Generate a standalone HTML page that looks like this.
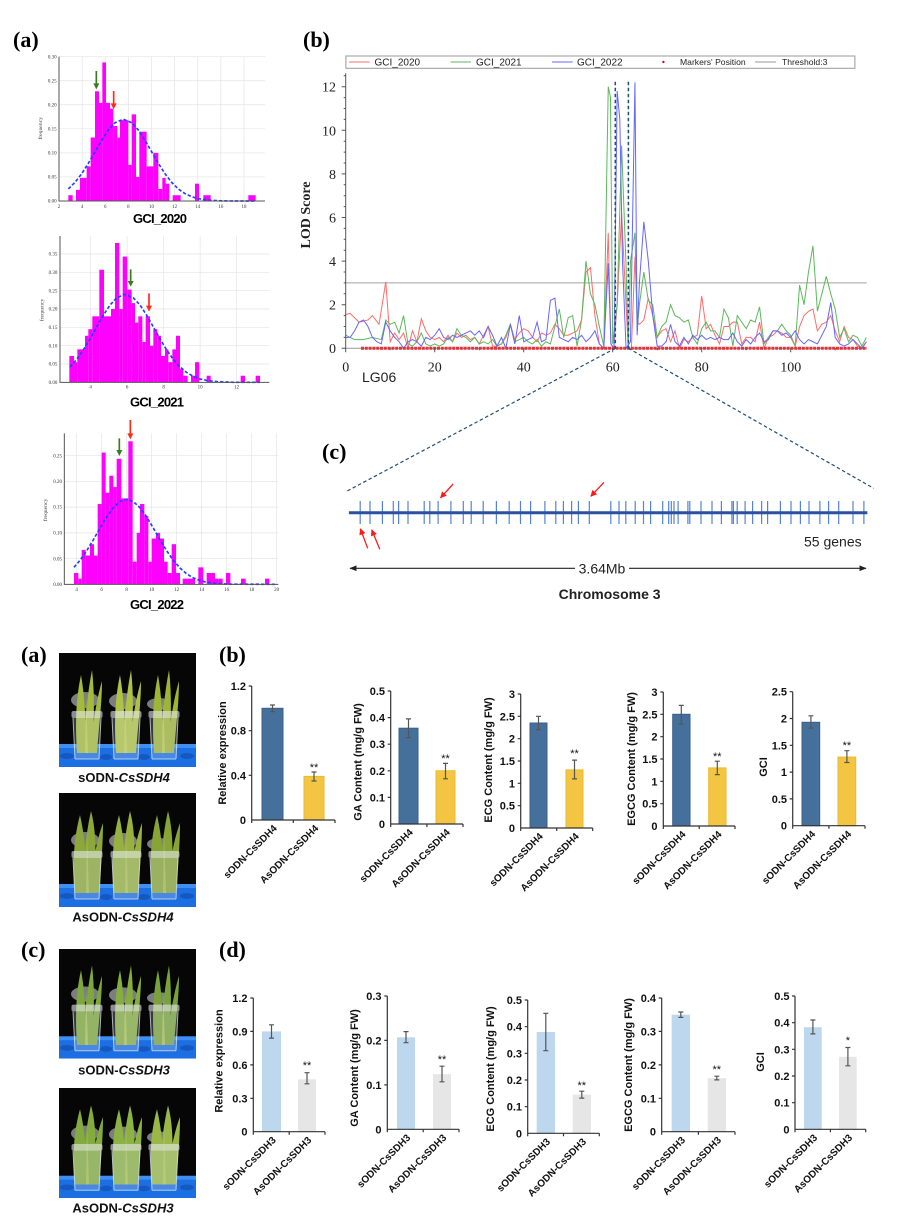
<!DOCTYPE html>
<html><head><meta charset="utf-8"><style>
html,body{margin:0;padding:0;background:#fff;}
svg{display:block;}
</style></head><body>
<svg width="900" height="1230" viewBox="0 0 900 1230" xmlns="http://www.w3.org/2000/svg">
<defs>
<marker id="rh" viewBox="0 0 10 10" refX="9" refY="5" markerWidth="5" markerHeight="5" orient="auto"><path d="M0,0 L10,5 L0,10z" fill="#ff1a1a"/></marker>
<marker id="bh" viewBox="0 0 10 10" refX="9" refY="5" markerWidth="6" markerHeight="6" orient="auto-start-reverse"><path d="M0,1 L10,5 L0,9z" fill="#222"/></marker>
<g id="pbg">
 <rect width="137" height="114" fill="#060606"/>
 <ellipse cx="26" cy="47" rx="14" ry="8" fill="#c9cdd3" opacity=".6"/>
 <ellipse cx="64" cy="48" rx="14" ry="8" fill="#c9cdd3" opacity=".6"/>
 <ellipse cx="100" cy="51" rx="12" ry="6" fill="#c9cdd3" opacity=".6"/>
 <rect y="91" width="137" height="23" fill="#1c6fe3"/>
 <rect y="91" width="137" height="4" fill="#3f8ff2"/>
 <ellipse cx="8" cy="103" rx="7" ry="3" fill="#1559c0"/>
 <ellipse cx="47" cy="104" rx="6" ry="3" fill="#1559c0"/>
 <ellipse cx="85" cy="104" rx="6" ry="3" fill="#1559c0"/>
 <ellipse cx="128" cy="103" rx="7" ry="3" fill="#1559c0"/>
</g>
<g id="leaf">
 <path d="M-10,100 C-12,70 -11,45 -6,22 C-2,45 -1,70 -1,100Z"/>
 <path d="M-3,100 C-2,62 1,38 5,17 C8,42 7,70 5,100Z"/>
 <path d="M3,100 C6,68 10,45 15,28 C15,50 12,72 10,100Z"/>
 <path d="M-2,100 L-1,40 L1,100Z" fill="#d2dc6a" opacity=".5"/>
</g>
<g id="leaf2">
 <path d="M-12,100 C-15,70 -13,44 -7,22 C-2,44 0,70 0,100Z"/>
 <path d="M-4,100 C-4,62 0,36 4,18 C10,40 9,70 7,100Z"/>
 <path d="M2,100 C6,68 10,46 16,30 C16,52 14,72 12,100Z"/>
 <path d="M-1,100 L0,40 L2,100Z" fill="#c4d464" opacity=".5"/>
</g>
<g id="cup">
 <path d="M-14,65 L14,65 L12,106 L-12,106Z" fill="#cfd8e2" opacity=".25"/>
 <path d="M-14,65 L-12,106 M14,65 L12,106 M-12,106 H12" stroke="#dfe5ec" stroke-width="1" opacity=".75" fill="none"/>
 <rect x="-15.5" y="58" width="31" height="7" rx="2" fill="#e4e8ec" opacity=".6"/>
</g>
</defs>

<!-- ================= Panel labels ================= -->
<g font-family="Liberation Serif, serif" font-weight="bold" font-size="22">
<text x="13" y="47">(a)</text>
<text x="303" y="47">(b)</text>
<text x="322" y="459">(c)</text>
<text x="21" y="662">(a)</text>
<text x="219" y="662">(b)</text>
<text x="21" y="957">(c)</text>
<text x="219" y="957">(d)</text>
</g>

<!-- ================= Histogram 1 ================= -->
<g transform="scale(0.333333)">
 <g stroke="#e4e4e4" stroke-width="2">
  <path d="M177,530.8H795M177,458.7H795M177,386.5H795M177,314.3H795M177,242.2H795M177,170H795"/>
  <path d="M246.4,170V603M315.8,170V603M385.1,170V603M454.5,170V603M523.9,170V603M593.3,170V603M662.6,170V603M732,170V603"/>
 </g>
 <g fill="#ff00ff">
  <rect x="205" y="585.7" width="13" height="17.3"/><rect x="228" y="569.8" width="12" height="33.2"/><rect x="240" y="533.7" width="20" height="69.3"/><rect x="260" y="499.1" width="12" height="103.9"/><rect x="272" y="412.5" width="13" height="190.5"/><rect x="285" y="273.9" width="12" height="329.1"/><rect x="297" y="308.6" width="10" height="294.4"/><rect x="307" y="187.3" width="11" height="415.7"/><rect x="318" y="308.6" width="12" height="294.4"/><rect x="330" y="325.9" width="10" height="277.1"/><rect x="340" y="377.8" width="12" height="225.2"/><rect x="352" y="412.5" width="8" height="190.5"/><rect x="360" y="360.5" width="25" height="242.5"/><rect x="385" y="494.8" width="10" height="108.2"/><rect x="395" y="343.2" width="13" height="259.8"/><rect x="408" y="530.8" width="10" height="72.2"/><rect x="418" y="395.2" width="22" height="207.8"/><rect x="440" y="499.1" width="20" height="103.9"/><rect x="460" y="458.7" width="15" height="144.3"/><rect x="475" y="566.9" width="12" height="36.1"/><rect x="487" y="533.7" width="10" height="69.3"/><rect x="497" y="551" width="11" height="52"/><rect x="518" y="585.7" width="24" height="17.3"/><rect x="585" y="551" width="12" height="52"/><rect x="610" y="585.7" width="22" height="17.3"/><rect x="745" y="585.7" width="22" height="17.3"/>
 </g>
 <polyline fill="none" stroke="#2040ff" stroke-width="5" stroke-dasharray="10,6" points="205,566.9 225,547.1 245,521.3 265,490 285,455.4 305,420.7 325,390.2 345,368.2 370,357.6 395,368.2 415,390.2 435,420.7 455,455.4 475,490 495,521.3 515,547.1 535,566.9 555,580.9 575,590.2 595,596 620,600 660,602.5 700,603 765,603"/>
 <path d="M177,170V603H795" stroke="#555" stroke-width="3" fill="none"/>
 <g font-family="Liberation Serif, serif" font-size="15" fill="#333" text-anchor="end">
  <text x="170" y="608">0.00</text><text x="170" y="536">0.05</text><text x="170" y="464">0.10</text><text x="170" y="391">0.15</text><text x="170" y="319">0.20</text><text x="170" y="247">0.25</text><text x="170" y="175">0.30</text>
 </g>
 <g font-family="Liberation Serif, serif" font-size="15" fill="#333" text-anchor="middle">
  <text x="177" y="624">2</text><text x="246.4" y="624">4</text><text x="315.8" y="624">6</text><text x="385.1" y="624">8</text><text x="454.5" y="624">10</text><text x="523.9" y="624">12</text><text x="593.3" y="624">14</text><text x="662.6" y="624">16</text><text x="732" y="624">18</text>
  <text transform="translate(126,385) rotate(-90)" font-size="17">frequency</text>
 </g>
 <path d="M289,213V252" stroke="#3b7a1e" stroke-width="5"/><polygon points="280,250 298,250 289,268" fill="#3b7a1e"/>
 <path d="M341,273V312" stroke="#ff2a1a" stroke-width="5"/><polygon points="332,310 350,310 341,328" fill="#ff2a1a"/>
</g>
<text x="160" y="223" font-family="Liberation Sans, sans-serif" font-weight="bold" font-size="13" text-anchor="middle" textLength="54">GCI_2020</text>

<!-- ================= Histogram 2 ================= -->
<g transform="translate(0,220) scale(0.333333)">
 <g stroke="#e4e4e4" stroke-width="2">
  <path d="M180,432H808M180,377H808M180,322H808M180,267H808M180,212H808M180,157H808M180,102H808"/>
  <path d="M272,48V487M381.5,48V487M491,48V487M600.5,48V487M710,48V487"/>
 </g>
 <g fill="#ff00ff">
  <rect x="208" y="407.8" width="14" height="79.2"/><rect x="222" y="426.5" width="10" height="60.5"/><rect x="232" y="388" width="23" height="99"/><rect x="255" y="347.3" width="10" height="139.7"/><rect x="265" y="327.5" width="12" height="159.5"/><rect x="277" y="289" width="21" height="198"/><rect x="298" y="149.3" width="14" height="337.7"/><rect x="312" y="289" width="21" height="198"/><rect x="333" y="267" width="12" height="220"/><rect x="345" y="69" width="13" height="418"/><rect x="358" y="267" width="10" height="220"/><rect x="368" y="109.7" width="14" height="377.3"/><rect x="382" y="208.7" width="13" height="278.3"/><rect x="395" y="249.4" width="10" height="237.6"/><rect x="405" y="307.7" width="10" height="179.3"/><rect x="415" y="289" width="12" height="198"/><rect x="427" y="366" width="10" height="121"/><rect x="437" y="289" width="13" height="198"/><rect x="450" y="377" width="10" height="110"/><rect x="460" y="327.5" width="12" height="159.5"/><rect x="472" y="347.3" width="11" height="139.7"/><rect x="483" y="407.8" width="12" height="79.2"/><rect x="495" y="388" width="10" height="99"/><rect x="505" y="426.5" width="12" height="60.5"/><rect x="517" y="388" width="11" height="99"/><rect x="528" y="347.3" width="12" height="139.7"/><rect x="540" y="447.4" width="10" height="39.6"/><rect x="550" y="467.2" width="13" height="19.8"/><rect x="573" y="467.2" width="12" height="19.8"/><rect x="585" y="426.5" width="13" height="60.5"/><rect x="620" y="467.2" width="12" height="19.8"/><rect x="722" y="467.2" width="13" height="19.8"/><rect x="767" y="467.2" width="13" height="19.8"/>
 </g>
 <polyline fill="none" stroke="#2040ff" stroke-width="5" stroke-dasharray="10,6" points="210,440.8 230,418.3 250,389.9 270,356.7 290,320.8 310,285.6 330,255.1 350,233.4 375,223 400,233.4 420,255.1 440,285.6 460,320.8 480,356.7 500,389.9 520,418.3 540,440.8 560,457.5 580,469.1 600,476.7 620,481.3 650,484.9 700,486.9 780,487"/>
 <path d="M180,48V487H808" stroke="#555" stroke-width="3" fill="none"/>
 <g font-family="Liberation Serif, serif" font-size="15" fill="#333" text-anchor="end">
  <text x="172" y="492">0.00</text><text x="172" y="437">0.05</text><text x="172" y="382">0.10</text><text x="172" y="327">0.15</text><text x="172" y="272">0.20</text><text x="172" y="217">0.25</text><text x="172" y="162">0.30</text><text x="172" y="107">0.35</text>
 </g>
 <g font-family="Liberation Serif, serif" font-size="15" fill="#333" text-anchor="middle">
  <text x="272" y="506">4</text><text x="381.5" y="506">6</text><text x="491" y="506">8</text><text x="600.5" y="506">10</text><text x="710" y="506">12</text>
  <text transform="translate(131,270) rotate(-90)" font-size="17">frequency</text>
 </g>
 <path d="M392,148V185" stroke="#3b7a1e" stroke-width="5"/><polygon points="383,183 401,183 392,200" fill="#3b7a1e"/>
 <path d="M447,220V258" stroke="#ff2a1a" stroke-width="5"/><polygon points="438,257 456,257 447,275" fill="#ff2a1a"/>
</g>
<text x="157" y="406.5" font-family="Liberation Sans, sans-serif" font-weight="bold" font-size="13" text-anchor="middle" textLength="54">GCI_2021</text>

<!-- ================= Histogram 3 ================= -->
<g transform="translate(50,420) scale(0.333333)">
 <g stroke="#e4e4e4" stroke-width="2">
  <path d="M43,415.8H685M43,338.6H685M43,261.4H685M43,184.2H685M43,107H685"/>
  <path d="M80,40V493M155,40V493M230,40V493M305,40V493M380,40V493M455,40V493M530,40V493M605,40V493M680,40V493"/>
 </g>
 <g fill="#ff00ff">
  <rect x="72" y="459" width="13" height="34"/><rect x="85" y="476" width="10" height="17"/><rect x="95" y="389.6" width="12" height="103.4"/><rect x="107" y="406.5" width="13" height="86.5"/><rect x="120" y="372.6" width="12" height="120.4"/><rect x="132" y="406.5" width="11" height="86.5"/><rect x="143" y="252.1" width="12" height="240.9"/><rect x="155" y="97.7" width="12" height="395.3"/><rect x="167" y="218.2" width="11" height="274.8"/><rect x="178" y="167.2" width="12" height="325.8"/><rect x="190" y="201.2" width="10" height="291.8"/><rect x="200" y="116.3" width="14" height="376.7"/><rect x="214" y="235.2" width="21" height="257.8"/><rect x="235" y="63.8" width="13" height="429.2"/><rect x="248" y="425.1" width="12" height="67.9"/><rect x="260" y="338.6" width="10" height="154.4"/><rect x="270" y="252.1" width="13" height="240.9"/><rect x="283" y="287.6" width="12" height="205.4"/><rect x="295" y="425.1" width="10" height="67.9"/><rect x="305" y="355.6" width="13" height="137.4"/><rect x="318" y="338.6" width="12" height="154.4"/><rect x="330" y="355.6" width="12" height="137.4"/><rect x="342" y="425.1" width="11" height="67.9"/><rect x="353" y="459" width="12" height="34"/><rect x="365" y="372.6" width="13" height="120.4"/><rect x="378" y="459" width="12" height="34"/><rect x="398" y="476" width="37" height="17"/><rect x="445" y="442" width="15" height="51"/><rect x="470" y="459" width="25" height="34"/><rect x="495" y="476" width="10" height="17"/><rect x="505" y="476" width="13" height="17"/><rect x="528" y="459" width="13" height="34"/><rect x="573" y="476" width="14" height="17"/><rect x="645" y="476" width="13" height="17"/>
 </g>
 <polyline fill="none" stroke="#2040ff" stroke-width="5" stroke-dasharray="10,6" points="72,442 90,421 110,392.3 130,359.3 150,324.3 170,291 190,263.2 210,244.7 230,238.2 250,244.7 270,263.2 290,291 310,324.3 330,359.3 350,392.3 370,421 390,444.1 410,461.5 430,473.7 450,481.7 470,486.8 500,490.7 540,492.5 680,493"/>
 <path d="M43,40V493H685" stroke="#555" stroke-width="3" fill="none"/>
 <g font-family="Liberation Serif, serif" font-size="15" fill="#333" text-anchor="end">
  <text x="36" y="498">0.00</text><text x="36" y="421">0.05</text><text x="36" y="344">0.10</text><text x="36" y="266">0.15</text><text x="36" y="189">0.20</text><text x="36" y="112">0.25</text>
 </g>
 <g font-family="Liberation Serif, serif" font-size="15" fill="#333" text-anchor="middle">
  <text x="80" y="513">4</text><text x="155" y="513">6</text><text x="230" y="513">8</text><text x="305" y="513">10</text><text x="380" y="513">12</text><text x="455" y="513">14</text><text x="530" y="513">16</text><text x="605" y="513">18</text><text x="680" y="513">20</text>
  <text transform="translate(-9,270) rotate(-90)" font-size="17">frequency</text>
 </g>
 <path d="M208,55V92" stroke="#3b7a1e" stroke-width="5"/><polygon points="199,90 217,90 208,108" fill="#3b7a1e"/>
 <path d="M241,0V42" stroke="#ff2a1a" stroke-width="5"/><polygon points="232,40 250,40 241,58" fill="#ff2a1a"/>
</g>
<text x="157" y="609" font-family="Liberation Sans, sans-serif" font-weight="bold" font-size="13" text-anchor="middle" textLength="54">GCI_2022</text>

<!-- ================= LOD plot ================= -->
<rect x="345.9" y="56" width="509" height="12.3" fill="#fff" stroke="#999" stroke-width="1"/>
<g font-family="Liberation Sans, sans-serif" fill="#222">
 <path d="M349,62H369.6" stroke="#ff6b6b" stroke-width="1"/><text x="374.5" y="65.5" font-size="10">GCI_2020</text>
 <path d="M450.5,62H471" stroke="#5cb85c" stroke-width="1"/><text x="476" y="65.5" font-size="10">GCI_2021</text>
 <path d="M552,62H572.7" stroke="#6666ff" stroke-width="1"/><text x="577" y="65.5" font-size="10">GCI_2022</text>
 <circle cx="663.4" cy="62" r="1.2" fill="#c0143c"/><text x="680" y="65" font-size="8.6">Markers' Position</text>
 <path d="M755,62H776" stroke="#999" stroke-width="1"/><text x="782" y="65" font-size="8.6">Threshold:3</text>
</g>
<path d="M345.7,282.9H866.7" stroke="#a0a0a0" stroke-width="1"/>
<path d="M345.7,348.3H866.7" stroke="#999" stroke-width="1"/>
<g transform="translate(345.7,348.3) scale(4.45,-21.8)" fill="none" stroke-width="1">
<polyline vector-effect="non-scaling-stroke" stroke="#ff6b6b" points="0,1.55 1,1.6 3,1.2 5,1.3 6,1.5 7.5,1.1 9,3.05 10,0.3 11,0.7 12,0.4 13,0.7 14,0 15,0.8 16,0.3 17,1.35 18,0.8 19,0.5 20,0.4 21,0.5 22,0.3 23,0.6 24,0.3 25,0.7 26,0.5 27,0.6 28,0.4 29,0.5 30,0.2 31,0.6 32,1 33,0.1 34,0.1 35,0.2 36,0.5 37,1.1 38,0.4 39,0.7 40,0.9 41,0.8 42,0.5 43,0.3 44,0.7 45,0.6 46,0.7 47,1.1 48,0.9 49,0.6 50,0.6 51,0.7 52,0.8 53,1.3 54,3.5 55,3.7 56,1.5 57,0.2 58,0 59,5.3 59.6,0.2 60.2,0 61,2 62,6.2 63,2 63.5,0 64.2,0 65,4.2 65.6,1.2 66,1.1 67,1.3 68,2.3 69,1.5 70,0.5 71,0.8 72,0.9 73,0.3 74,0.8 75,0 76,0.4 77,0.3 78,0.5 79,0.6 80,2.4 81,0.9 82,1.1 83,0.6 84,0.2 85,1 86,1 87,1.2 88,1.2 89,0.2 90,0.5 91,0.5 92,0.3 93,1.2 94,0 95,0.5 96,0.6 97,0.8 98,0.7 99,0.5 100,0.5 101,0.1 102,1 103,1.5 104,1.7 105,1.8 106,0.8 107,1.1 108,1.2 109,1.5 110,0.8 111,0.3 112,1 113,0.5 114,0.4 115,0.1 116,0 117,0.3"/>
<polyline vector-effect="non-scaling-stroke" stroke="#5cb85c" points="0,0.6 1,0.5 2,0.4 4,0.4 6,0.5 8,0.4 9,1.3 10,1.1 11,1.2 12,0.7 13,1.5 14,0.2 15,0.1 16,0.3 17,0.7 18,0.2 19,0.1 20,0.2 21,0.1 22,0.2 23,0.5 24,0.3 25,0.9 26,0.6 27,0.5 28,0.3 29,0.5 30,0.2 31,0.3 32,0.2 33,0.4 34,0.1 35,0.2 36,0.6 37,1.1 38,0.3 39,0.4 40,0.5 41,0.3 42,0.2 43,0.4 44,0.1 45,0.3 46,0.2 47,1 48,1.8 49,0.5 50,1.4 51,1.5 52,0.1 53,1.3 54,4 55,2.5 56,2 57,1 58,0.1 59,12 59.5,11.5 60,0.2 61,2 62,9.3 63,3.8 63.5,0.1 64,4 65,5.3 65.5,0.8 66,2 67,3.5 68,2.2 69,2 70,0.5 71,1 72,1.2 73,2 74,1.5 75,1.4 76,1.2 77,1.3 78,0.5 79,0.2 80,0.9 81,1.2 82,0.8 83,0.8 84,0.5 85,1.8 86,1.4 87,0.1 88,1.5 89,1.2 90,0.9 91,1.3 92,1.2 93,1.9 94,0.2 95,0.5 96,0.8 97,0.8 98,1.1 99,0.8 100,0.6 101,0.1 102,2.9 103,2 104,3.5 105,4.7 106,1.7 107,2.5 108,3.3 109,2.5 110,1.8 111,0.5 112,0.9 113,0.3 114,0.6 115,0.5 116,0.1 117,0.5"/>
<polyline vector-effect="non-scaling-stroke" stroke="#6666ff" points="0,0.5 1,0.5 2,0.8 3,1.2 4,1.3 5,1 6,0.5 7,0.3 8,0.2 9,1.2 10,0.8 11,0.5 12,0.3 13,0 14,0.3 15,0.4 16,0.3 17,0.1 18,0.5 19,0.4 20,0.6 21,0.9 22,0.5 23,0.4 24,0.6 25,0.5 26,0.6 27,0.7 28,0.8 29,0.6 30,0.8 31,0.5 32,1 33,0.6 34,0.1 35,0.5 36,0 37,1.1 38,0.2 39,1.5 40,0.3 41,0.4 42,0.5 43,1.2 44,0.3 45,0.4 46,2.2 47,2.3 48,0.5 49,0.4 50,0.3 51,0.5 52,0.4 53,0.6 54,0.3 55,0.5 56,0.8 57,0.2 58,0 59,3.9 59.6,0.2 60.3,0 61,11.8 61.6,10.5 62.2,4 63,0 64,0.3 65,12.2 65.5,0.6 66,3 67,5.8 68,4 69,1.5 70,0.1 71,0.1 72,0.3 73,1.1 74,0.3 75,0.1 76,0.5 77,0.2 78,0.6 79,0.4 80,0.6 81,0.4 82,0.5 83,0.4 84,0.5 85,0.4 86,0.4 87,0.7 88,0.3 89,0.1 90,0.4 91,0.2 92,0.5 93,0.7 94,0.3 95,0.4 96,0.8 97,0.8 98,0.6 99,0.7 100,0.5 101,0.8 102,0.4 103,0.2 104,0.4 105,0.3 106,0.2 107,0.6 108,1 109,2.1 110,0.5 111,0.2 112,0.1 113,0.2 114,0.4 115,0.2 116,0 117,0.3"/>
</g>
<path d="M345.7,73.3V348.3" stroke="#555" stroke-width="1" fill="none"/>
<path d="M361,348.3H866.7" stroke="#e3323a" stroke-width="3" stroke-dasharray="3 0.8"/>
<path d="M341.7,348.3h4M341.7,304.7h4M341.7,261.1h4M341.7,217.5h4M341.7,173.9h4M341.7,130.3h4M341.7,86.7h4" stroke="#555" stroke-width="1"/>
<path d="M343.7,337.4h2M343.7,326.5h2M343.7,315.6h2M343.7,293.8h2M343.7,282.9h2M343.7,272h2M343.7,250.2h2M343.7,239.3h2M343.7,228.4h2M343.7,206.6h2M343.7,195.7h2M343.7,184.8h2M343.7,163h2M343.7,152.1h2M343.7,141.2h2M343.7,119.4h2M343.7,108.5h2M343.7,97.6h2M343.7,75.8h2" stroke="#555" stroke-width="1"/>
<path d="M345.7,348.3v4M434.7,348.3v4M523.7,348.3v4M612.7,348.3v4M701.7,348.3v4M790.7,348.3v4M390.2,348.3v2M479.2,348.3v2M568.2,348.3v2M657.2,348.3v2M746.2,348.3v2M835.2,348.3v2" stroke="#555" stroke-width="1"/>
<g font-family="Liberation Serif, serif" font-size="14" fill="#222">
 <g text-anchor="end">
  <text x="336" y="353">0</text><text x="336" y="309.5">2</text><text x="336" y="266">4</text><text x="336" y="222.5">6</text><text x="336" y="178.9">8</text><text x="336" y="135.3">10</text><text x="336" y="91.7">12</text>
 </g>
 <g text-anchor="middle">
  <text x="345.7" y="371.5">0</text><text x="434.7" y="371.5">20</text><text x="523.7" y="371.5">40</text><text x="612.7" y="371.5">60</text><text x="701.7" y="371.5">80</text><text x="790.7" y="371.5">100</text>
 </g>
 <text transform="translate(310,215) rotate(-90)" text-anchor="middle" font-weight="bold">LOD Score</text>
</g>
<text x="362" y="382" font-family="Liberation Sans, sans-serif" font-size="14" fill="#222">LG06</text>
<g stroke="#1f4e79" stroke-width="1.5" stroke-dasharray="3.5,2.5" fill="none">
 <path d="M615.3,81.7V348.3M628.4,81.7V348.3"/>
 <path d="M615.3,348.3L345.9,491.7M628.4,348.3L873.7,488.3" stroke-width="1.2"/>
</g>

<!-- ================= Chromosome (c) ================= -->
<path d="M360.2,501V524M370,501V524M382.4,501V524M393.3,501V524M398.6,501V524M408,501V524M424.2,501V524M429.8,501V524M438.1,501V524M450.9,501V524M463.3,501V524M471.2,501V524M483.2,501V524M496.4,501V524M509.2,501V524M520.5,501V524M530.6,501V524M544.9,501V524M555.8,501V524M563.4,501V524M571.6,501V524M578.4,501V524M589.3,501V524M610.8,501V524M619,501V524M625.8,501V524M635.2,501V524M643.5,501V524M650.6,501V524M662.7,501V524M668.7,501V524M671.3,501V524M674,501V524M678.1,501V524M687.9,501V524M689.8,501V524M701,501V524M712,501V524M721.4,501V524M731.9,501V524M733.4,501V524M737.2,501V524M745.1,501V524M752.6,501V524M761.6,501V524M767.6,501V524M780.4,501V524M791,501V524M800.4,501V524M809,501V524M819.9,501V524M828.6,501V524M838.7,501V524M853,501V524M863.9,501V524" stroke="#5584d4" stroke-width="1.2"/>
<path d="M348.9,512.7H867.3" stroke="#2b50a0" stroke-width="3"/>
<g stroke="#ff1a1a" stroke-width="1.3" marker-end="url(#rh)">
 <path d="M453.1,484L440.5,497.8"/>
 <path d="M604,482.3L590.8,496.3"/>
 <path d="M367.7,548.3L360.4,528.8"/>
 <path d="M379.8,549.3L371.7,529.8"/>
</g>
<text x="804" y="546.5" font-family="Liberation Sans, sans-serif" font-size="14" fill="#222">55 genes</text>
<path d="M629,568.3H866" stroke="#222" stroke-width="1.2" marker-end="url(#bh)"/>
<path d="M575,568.3H350" stroke="#222" stroke-width="1.2" marker-end="url(#bh)"/>
<text x="602" y="573.3" font-family="Liberation Sans, sans-serif" font-size="14" fill="#222" text-anchor="middle">3.64Mb</text>
<text x="609.6" y="599" font-family="Liberation Sans, sans-serif" font-size="14" font-weight="bold" fill="#222" text-anchor="middle">Chromosome 3</text>

<!-- ================= Photos ================= -->
<g transform="translate(59,653)">
 <use href="#pbg"/>
 <use href="#leaf" x="28" fill="#a3ba3a"/><use href="#leaf" x="67" fill="#afc244"/><use href="#leaf" x="105" fill="#9fb536"/>
 <use href="#cup" x="28"/><use href="#cup" x="67"/><use href="#cup" x="105"/>
</g>
<g transform="translate(59,793)">
 <use href="#pbg"/>
 <use href="#leaf2" x="28" fill="#8ca83a"/><use href="#leaf2" x="67" fill="#97b040"/><use href="#leaf2" x="105" fill="#88a436"/>
 <use href="#cup" x="28"/><use href="#cup" x="67"/><use href="#cup" x="105"/>
</g>
<g transform="translate(59,949) scale(1,0.96)">
 <use href="#pbg"/>
 <use href="#leaf" x="28" fill="#7fa83c"/><use href="#leaf" x="67" fill="#86ad40"/><use href="#leaf" x="105" fill="#7aa23a"/>
 <use href="#cup" x="28"/><use href="#cup" x="67"/><use href="#cup" x="105"/>
</g>
<g transform="translate(59,1088) scale(1,0.965)">
 <use href="#pbg"/>
 <use href="#leaf2" x="28" fill="#84ab3e"/><use href="#leaf2" x="67" fill="#8db244"/><use href="#leaf2" x="105" fill="#9ab848"/>
 <use href="#cup" x="28"/><use href="#cup" x="67"/><use href="#cup" x="105"/>
</g>
<g font-family="Liberation Sans, sans-serif" font-weight="bold" font-size="13" fill="#111" text-anchor="middle">
 <text x="124" y="782">sODN-<tspan font-style="italic">CsSDH4</tspan></text>
 <text x="123" y="921.5">AsODN-<tspan font-style="italic">CsSDH4</tspan></text>
 <text x="124" y="1074.5">sODN-<tspan font-style="italic">CsSDH3</tspan></text>
 <text x="123" y="1212.5">AsODN-<tspan font-style="italic">CsSDH3</tspan></text>
</g>

<!-- ================= Bar charts row (b) ================= -->
<g font-family="Liberation Sans, sans-serif" fill="#111">
<!-- b1 -->
<rect x="262" y="708.3" width="21" height="111.7" fill="#46709c" stroke="#3a5f88" stroke-width="1"/>
<rect x="304" y="776.4" width="20" height="43.6" fill="#f4c542" stroke="#e9b92e" stroke-width="1"/>
<path d="M272.5,705V711.7M270,705h5M270,711.7h5M314,772V781M311.5,772h5M311.5,781h5" stroke="#555" stroke-width="1.2"/>
<path d="M251.7,686V820H335M248.7,686h3M248.7,730.7h3M248.7,775.3h3M251.7,820v3M293.3,820v3M335,820v3" stroke="#333" stroke-width="1.2" fill="none"/>
<g font-size="11" font-weight="bold" text-anchor="end"><text x="246" y="690">1.2</text><text x="246" y="734.7">0.8</text><text x="246" y="779.3">0.4</text><text x="246" y="824">0</text></g>
<text x="314" y="771" font-size="11" text-anchor="middle">**</text>
<text transform="translate(226,753) rotate(-90)" font-size="11" font-weight="bold" text-anchor="middle">Relative expression</text>
<g font-size="10" font-weight="bold" text-anchor="end"><text transform="translate(277.5,829) rotate(-45)">sODN-CsSDH4</text><text transform="translate(319,829) rotate(-45)">AsODN-CsSDH4</text></g>

<!-- b2 -->
<rect x="399" y="728.2" width="19" height="95.8" fill="#46709c" stroke="#3a5f88" stroke-width="1"/>
<rect x="436" y="770.8" width="19" height="53.2" fill="#f4c542" stroke="#e9b92e" stroke-width="1"/>
<path d="M408.5,718.9V737.6M406,718.9h5M406,737.6h5M445.5,763.4V778.8M443,763.4h5M443,778.8h5" stroke="#555" stroke-width="1.2"/>
<path d="M390.7,691V824H463M387.7,691h3M387.7,717.6h3M387.7,744.2h3M387.7,770.8h3M387.7,797.4h3M390.7,824v3M426.9,824v3M463,824v3" stroke="#333" stroke-width="1.2" fill="none"/>
<g font-size="11" font-weight="bold" text-anchor="end"><text x="385" y="695">0.5</text><text x="385" y="721.6">0.4</text><text x="385" y="748.2">0.3</text><text x="385" y="774.8">0.2</text><text x="385" y="801.4">0.1</text><text x="385" y="828">0</text></g>
<text x="445.5" y="762" font-size="11" text-anchor="middle">**</text>
<text transform="translate(361.5,762) rotate(-90)" font-size="11" font-weight="bold" text-anchor="middle">GA Content (mg/g FW)</text>
<g font-size="10" font-weight="bold" text-anchor="end"><text transform="translate(413.5,833) rotate(-45)">sODN-CsSDH4</text><text transform="translate(450.5,833) rotate(-45)">AsODN-CsSDH4</text></g>

<!-- b3 -->
<rect x="530" y="723" width="17" height="105" fill="#46709c" stroke="#3a5f88" stroke-width="1"/>
<rect x="566" y="769.9" width="17" height="58.1" fill="#f4c542" stroke="#e9b92e" stroke-width="1"/>
<path d="M538.5,716.3V729.7M536,716.3h5M536,729.7h5M574.5,760.1V778.9M572,760.1h5M572,778.9h5" stroke="#555" stroke-width="1.2"/>
<path d="M520.7,694V828H592.7M517.7,694h3M517.7,716.3h3M517.7,738.7h3M517.7,761h3M517.7,783.3h3M517.7,805.7h3M520.7,828v3M556.7,828v3M592.7,828v3" stroke="#333" stroke-width="1.2" fill="none"/>
<g font-size="11" font-weight="bold" text-anchor="end"><text x="515" y="698">3</text><text x="515" y="720.3">2.5</text><text x="515" y="742.7">2</text><text x="515" y="765">1.5</text><text x="515" y="787.3">1</text><text x="515" y="809.7">0.5</text><text x="515" y="832">0</text></g>
<text x="574.5" y="757" font-size="11" text-anchor="middle">**</text>
<text transform="translate(492,760) rotate(-90)" font-size="11" font-weight="bold" text-anchor="middle">ECG Content (mg/g FW)</text>
<g font-size="10" font-weight="bold" text-anchor="end"><text transform="translate(543.5,837) rotate(-45)">sODN-CsSDH4</text><text transform="translate(579.5,837) rotate(-45)">AsODN-CsSDH4</text></g>

<!-- b4 -->
<rect x="672.7" y="714.3" width="17.3" height="111.7" fill="#46709c" stroke="#3a5f88" stroke-width="1"/>
<rect x="708.7" y="767.9" width="17.3" height="58.1" fill="#f4c542" stroke="#e9b92e" stroke-width="1"/>
<path d="M681.3,705.4V724.2M678.8,705.4h5M678.8,724.2h5M717.3,761.2V774.6M714.8,761.2h5M714.8,774.6h5" stroke="#555" stroke-width="1.2"/>
<path d="M663.3,692V826H735M660.3,692h3M660.3,714.3h3M660.3,736.7h3M660.3,759h3M660.3,781.3h3M660.3,803.7h3M663.3,826v3M699.2,826v3M735,826v3" stroke="#333" stroke-width="1.2" fill="none"/>
<g font-size="11" font-weight="bold" text-anchor="end"><text x="657.5" y="696">3</text><text x="657.5" y="718.3">2.5</text><text x="657.5" y="740.7">2</text><text x="657.5" y="763">1.5</text><text x="657.5" y="785.3">1</text><text x="657.5" y="807.7">0.5</text><text x="657.5" y="830">0</text></g>
<text x="717.3" y="760" font-size="11" text-anchor="middle">**</text>
<text transform="translate(635,759) rotate(-90)" font-size="11" font-weight="bold" text-anchor="middle">EGCG Content (mg/g FW)</text>
<g font-size="10" font-weight="bold" text-anchor="end"><text transform="translate(686.3,835) rotate(-45)">sODN-CsSDH4</text><text transform="translate(722.3,835) rotate(-45)">AsODN-CsSDH4</text></g>

<!-- b5 -->
<rect x="802" y="722.3" width="17.7" height="103.4" fill="#46709c" stroke="#3a5f88" stroke-width="1"/>
<rect x="838" y="757.1" width="17.7" height="68.6" fill="#f4c542" stroke="#e9b92e" stroke-width="1"/>
<path d="M810.9,715.8V728.1M808.4,715.8h5M808.4,728.1h5M846.9,750.7V762.5M844.4,750.7h5M844.4,762.5h5" stroke="#555" stroke-width="1.2"/>
<path d="M792.7,691.7V825.7H865M789.7,691.7h3M789.7,718.5h3M789.7,745.3h3M789.7,772.1h3M789.7,798.9h3M792.7,825.7v3M828.9,825.7v3M865,825.7v3" stroke="#333" stroke-width="1.2" fill="none"/>
<g font-size="11" font-weight="bold" text-anchor="end"><text x="787" y="695.7">2.5</text><text x="787" y="722.5">2</text><text x="787" y="749.3">1.5</text><text x="787" y="776.1">1</text><text x="787" y="802.9">0.5</text><text x="787" y="829.7">0</text></g>
<text x="846.9" y="749" font-size="11" text-anchor="middle">**</text>
<text transform="translate(767,767) rotate(-90)" font-size="11" font-weight="bold" text-anchor="middle">GCI</text>
<g font-size="10" font-weight="bold" text-anchor="end"><text transform="translate(815.9,834.7) rotate(-45)">sODN-CsSDH4</text><text transform="translate(851.9,834.7) rotate(-45)">AsODN-CsSDH4</text></g>

<!-- ================= Bar charts row (d) ================= -->
<!-- d1 -->
<rect x="262" y="1031.4" width="19" height="100.3" fill="#bdd7ee"/>
<rect x="298" y="1079.3" width="18" height="52.4" fill="#e6e6e6"/>
<path d="M271.5,1024.8V1038.1M269,1024.8h5M269,1038.1h5M307,1072.7V1083.8M304.5,1072.7h5M304.5,1083.8h5" stroke="#555" stroke-width="1.2"/>
<path d="M253.3,998V1131.7H325M250.3,998h3M250.3,1031.4h3M250.3,1064.9h3M250.3,1098.3h3M253.3,1131.7v3M289.2,1131.7v3M325,1131.7v3" stroke="#333" stroke-width="1.2" fill="none"/>
<g font-size="11" font-weight="bold" text-anchor="end"><text x="247.5" y="1002">1.2</text><text x="247.5" y="1035.4">0.9</text><text x="247.5" y="1068.9">0.6</text><text x="247.5" y="1102.3">0.3</text><text x="247.5" y="1135.7">0</text></g>
<text x="307" y="1069" font-size="11" text-anchor="middle">**</text>
<text transform="translate(222.5,1061) rotate(-90)" font-size="11" font-weight="bold" text-anchor="middle">Relative expression</text>
<g font-size="10" font-weight="bold" text-anchor="end"><text transform="translate(276.5,1140.7) rotate(-45)">sODN-CsSDH3</text><text transform="translate(312,1140.7) rotate(-45)">AsODN-CsSDH3</text></g>

<!-- d2 -->
<rect x="397" y="1037.3" width="18" height="92" fill="#bdd7ee"/>
<rect x="433" y="1074.2" width="18" height="55.1" fill="#e6e6e6"/>
<path d="M406,1031.6V1042.7M403.5,1031.6h5M403.5,1042.7h5M442,1066.2V1081.8M439.5,1066.2h5M439.5,1081.8h5" stroke="#555" stroke-width="1.2"/>
<path d="M387.3,996V1129.3H459M384.3,996h3M384.3,1040.4h3M384.3,1084.9h3M387.3,1129.3v3M423.2,1129.3v3M459,1129.3v3" stroke="#333" stroke-width="1.2" fill="none"/>
<g font-size="11" font-weight="bold" text-anchor="end"><text x="381.5" y="1000">0.3</text><text x="381.5" y="1044.4">0.2</text><text x="381.5" y="1088.9">0.1</text><text x="381.5" y="1133.3">0</text></g>
<text x="442" y="1063" font-size="11" text-anchor="middle">**</text>
<text transform="translate(358,1068) rotate(-90)" font-size="11" font-weight="bold" text-anchor="middle">GA Content (mg/g FW)</text>
<g font-size="10" font-weight="bold" text-anchor="end"><text transform="translate(411,1138.3) rotate(-45)">sODN-CsSDH3</text><text transform="translate(447,1138.3) rotate(-45)">AsODN-CsSDH3</text></g>

<!-- d3 -->
<rect x="536.7" y="1032" width="18.3" height="101.3" fill="#bdd7ee"/>
<rect x="572.7" y="1094.6" width="18.3" height="38.7" fill="#e6e6e6"/>
<path d="M545.8,1013.3V1050.7M543.3,1013.3h5M543.3,1050.7h5M581.8,1091.2V1098.1M579.3,1091.2h5M579.3,1098.1h5" stroke="#555" stroke-width="1.2"/>
<path d="M527.7,1000V1133.3H599.3M524.7,1000h3M524.7,1026.7h3M524.7,1053.3h3M524.7,1080h3M524.7,1106.7h3M527.7,1133.3v3M563.5,1133.3v3M599.3,1133.3v3" stroke="#333" stroke-width="1.2" fill="none"/>
<g font-size="11" font-weight="bold" text-anchor="end"><text x="522" y="1004">0.5</text><text x="522" y="1030.7">0.4</text><text x="522" y="1057.3">0.3</text><text x="522" y="1084">0.2</text><text x="522" y="1110.7">0.1</text><text x="522" y="1137.3">0</text></g>
<text x="581.8" y="1089" font-size="11" text-anchor="middle">**</text>
<text transform="translate(494,1069) rotate(-90)" font-size="11" font-weight="bold" text-anchor="middle">ECG Content (mg/g FW)</text>
<g font-size="10" font-weight="bold" text-anchor="end"><text transform="translate(550.8,1142.3) rotate(-45)">sODN-CsSDH3</text><text transform="translate(586.8,1142.3) rotate(-45)">AsODN-CsSDH3</text></g>

<!-- d4 -->
<rect x="671.7" y="1014.7" width="18.3" height="117" fill="#bdd7ee"/>
<rect x="707.7" y="1078.2" width="18.3" height="53.5" fill="#e6e6e6"/>
<path d="M680.8,1012V1017.4M678.3,1012h5M678.3,1017.4h5M716.8,1076.2V1079.9M714.3,1076.2h5M714.3,1079.9h5" stroke="#555" stroke-width="1.2"/>
<path d="M661.7,998V1131.7H735M658.7,998h3M658.7,1031.4h3M658.7,1064.9h3M658.7,1098.3h3M661.7,1131.7v3M698.4,1131.7v3M735,1131.7v3" stroke="#333" stroke-width="1.2" fill="none"/>
<g font-size="11" font-weight="bold" text-anchor="end"><text x="656" y="1002">0.4</text><text x="656" y="1035.4">0.3</text><text x="656" y="1068.9">0.2</text><text x="656" y="1102.3">0.1</text><text x="656" y="1135.7">0</text></g>
<text x="716.8" y="1073" font-size="11" text-anchor="middle">**</text>
<text transform="translate(632,1065) rotate(-90)" font-size="11" font-weight="bold" text-anchor="middle">EGCG Content (mg/g FW)</text>
<g font-size="10" font-weight="bold" text-anchor="end"><text transform="translate(685.8,1140.7) rotate(-45)">sODN-CsSDH3</text><text transform="translate(721.8,1140.7) rotate(-45)">AsODN-CsSDH3</text></g>

<!-- d5 -->
<rect x="804" y="1027.2" width="17.7" height="102.1" fill="#bdd7ee"/>
<rect x="839" y="1056.8" width="17.7" height="72.5" fill="#e6e6e6"/>
<path d="M812.9,1020V1033.9M810.4,1020h5M810.4,1033.9h5M847.9,1047.5V1065.8M845.4,1047.5h5M845.4,1065.8h5" stroke="#555" stroke-width="1.2"/>
<path d="M795,996V1129.3H865.7M792,996h3M792,1022.7h3M792,1049.3h3M792,1076h3M792,1102.7h3M795,1129.3v3M830.4,1129.3v3M865.7,1129.3v3" stroke="#333" stroke-width="1.2" fill="none"/>
<g font-size="11" font-weight="bold" text-anchor="end"><text x="789.5" y="1000">0.5</text><text x="789.5" y="1026.7">0.4</text><text x="789.5" y="1053.3">0.3</text><text x="789.5" y="1080">0.2</text><text x="789.5" y="1106.7">0.1</text><text x="789.5" y="1133.3">0</text></g>
<text x="847.9" y="1044" font-size="11" text-anchor="middle">*</text>
<text transform="translate(764,1062) rotate(-90)" font-size="11" font-weight="bold" text-anchor="middle">GCI</text>
<g font-size="10" font-weight="bold" text-anchor="end"><text transform="translate(817.9,1138.3) rotate(-45)">sODN-CsSDH3</text><text transform="translate(852.9,1138.3) rotate(-45)">AsODN-CsSDH3</text></g>
</g>
</svg>
</body></html>
